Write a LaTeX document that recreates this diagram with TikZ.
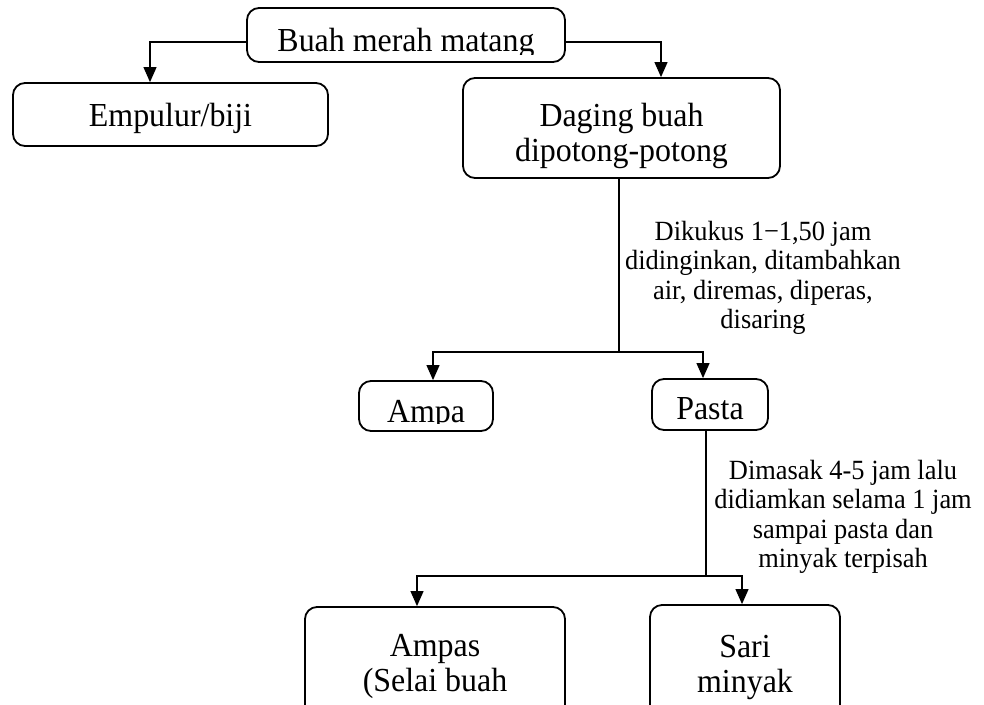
\documentclass[tikz,border=0pt]{standalone}
\usepackage{fontspec}
\setmainfont{Liberation Serif}[FakeStretch=0.95]
\usetikzlibrary{arrows.meta}

\tikzset{
  box/.style={draw, line width=1.8pt, rounded corners=12pt, inner sep=0pt,
    align=center, font=\fontsize{33.6}{35}\selectfont},
  boxtext/.style={inner sep=0pt, font=\fontsize{33.6}{35}\selectfont},
  note/.style={align=center, inner sep=0pt, font=\fontsize{27.8}{29.5}\selectfont},
  flow/.style={line width=1.1pt, -{Triangle[length=15pt,width=13pt]}},
  stem/.style={line width=1.1pt}
}

\begin{document}
\begin{tikzpicture}[x=1pt,y=-1pt]

% page frame
  \useasboundingbox (0,0) rectangle (984,704);
  \clip (0,0) rectangle (984,704);

% boxes
  \node[box, minimum width=318pt, minimum height=54pt] (buah) at (406,35) {};
  \node[box, minimum width=315pt, minimum height=63pt, text depth=0pt] (empulur) at (170.5,114.5) {Empulur/biji};
  \node[box, minimum width=317pt, minimum height=100pt, text height=66pt, text depth=0pt] (daging) at (621.5,128) {Daging buah\\dipotong-potong};
  \node[box, minimum width=134pt, minimum height=50pt] (ampa) at (426,406) {};
  \node[box, minimum width=116pt, minimum height=51pt] (pasta) at (710,404.5) {};
  \node[box, minimum width=260pt, minimum height=119pt] (ampas) at (435,666.5) {Ampas\\(Selai buah};
  \node[box, minimum width=190pt, minimum height=124pt] (sari) at (745,667) {Sari\\minyak};

% texts cut off at the bottom
  \begin{scope}
    \clip (250,10) rectangle (565,54);
    \node[boxtext, anchor=base] (buahtxt) at (406,51) {Buah merah matang};
  \end{scope}
  \begin{scope}
    \clip (362,383) rectangle (490,423);
    \node[boxtext, anchor=base] (ampatxt) at (426,422) {Ampa};
  \end{scope}
  \begin{scope}
    \clip (655,381) rectangle (765,420);
    \node[boxtext, anchor=base] (pastatxt) at (710,419) {Pasta};
  \end{scope}

% process notes
  \node[note] (kukus) at (763,278) {Dikukus 1−1,50 jam\\didinginkan, ditambahkan\\air, diremas, diperas,\\disaring};
  \node[note] (masak) at (843,517) {Dimasak 4-5 jam lalu\\didiamkan selama 1 jam\\sampai pasta dan\\minyak terpisah};

% split points
  \coordinate (split1) at (619,352);
  \coordinate (split2) at (706,576);

% connectors
  \draw[flow] ([yshift=-7pt]buah.west) -| ([xshift=-20.5pt]empulur.north);
  \draw[flow] ([yshift=-7pt]buah.east) -| ([xshift=39.5pt]daging.north);
  \draw[stem] (daging.south -| split1) -- (split1);
  \draw[flow] (split1) -| ([xshift=7pt]ampa.north);
  \draw[flow] (split1) -| ([xshift=-7pt]pasta.north);
  \draw[stem] (pasta.south -| split2) -- (split2);
  \draw[flow] (split2) -| ([xshift=-18pt]ampas.north);
  \draw[flow] (split2) -| ([xshift=-3pt]sari.north);

\end{tikzpicture}
\end{document}
